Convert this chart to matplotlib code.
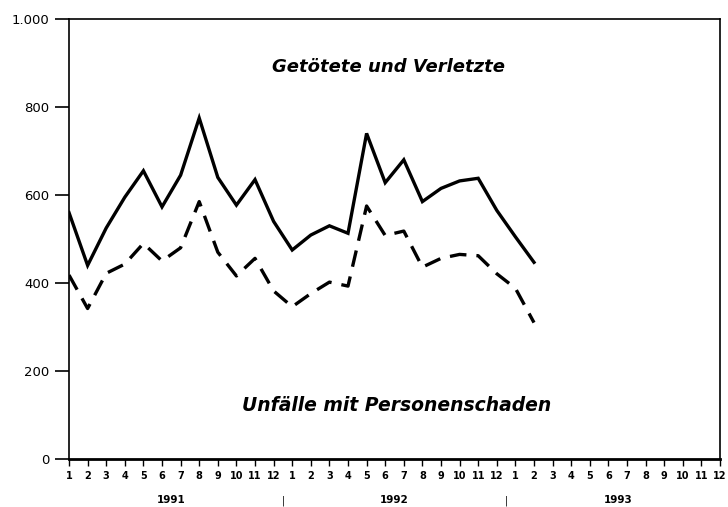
import numpy as np
import matplotlib.pyplot as plt
from matplotlib.transforms import blended_transform_factory

plt.rcParams['font.family'] = ['DejaVu Sans']

# Monatswerte Jan 1991 - Feb 1993
verletzte = [560, 440, 525, 595, 655, 573, 645, 775, 640, 577, 635, 540,
             475, 509, 530, 513, 740, 628, 680, 585, 615, 632, 638, 565,
             505, 447]
unfaelle = [418, 342, 422, 443, 490, 450, 480, 585, 470, 416, 456, 382,
            346, 376, 402, 393, 575, 508, 518, 436, 456, 465, 462, 421,
            388, 310]
months = [str(m) for m in range(1, 13)] * 3
years = ['1991', '1992', '1993']

fig = plt.figure(figsize=(7.28, 5.07), dpi=100)
ax = fig.add_axes([0.0948, 0.0947, 0.8942, 0.8678])

x = np.arange(len(verletzte))
ax.plot(x, verletzte, 'k-', lw=2.4, solid_joinstyle='miter')
ax.plot(x, unfaelle, 'k-', lw=2.4, dashes=(5, 3))

ax.set_xlim(0, 35)
ax.set_ylim(0, 1000)
ax.set_yticks([0, 200, 400, 600, 800, 1000])
ax.set_yticklabels(['0', '200', '400', '600', '800', '1.000'], fontsize=9.5)
ax.set_xticks(range(36))
ax.set_xticklabels(months, fontsize=7, fontweight='bold')
ax.tick_params(axis='y', length=10, width=1.2, pad=4)
ax.tick_params(axis='x', length=5, width=1, pad=4)
for s in ax.spines.values():
    s.set_linewidth(1.2)
ax.spines['bottom'].set_linewidth(2)

tr = blended_transform_factory(ax.transData, ax.transAxes)
for i, yr in enumerate(years):
    ax.text(5.5 + 12 * i, -0.094, yr, transform=tr, ha='center', va='center',
            fontsize=7.5, fontweight='bold')
for xs in [11.5, 23.5]:
    ax.text(xs, -0.094, '|', transform=tr, ha='center', va='center',
            fontsize=7)

ax.text(17.2, 890, 'Getötete und Verletzte', ha='center', va='center',
        fontsize=13, fontweight='bold', style='italic')
ax.text(17.6, 122, 'Unfälle mit Personenschaden', ha='center', va='center',
        fontsize=13.5, fontweight='bold', style='italic')

fig.savefig('out.png', dpi=100)
